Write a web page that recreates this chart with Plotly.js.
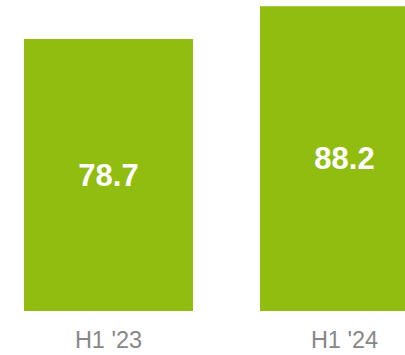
<!DOCTYPE html>
<html>
<head>
<meta charset="utf-8">
<script src="https://cdn.plot.ly/plotly-3.0.1.min.js"></script>
<style>html,body{margin:0;padding:0;background:#fff;}#chart{width:405px;height:355px;}</style>
</head>
<body>
<div id="chart"></div>
<script>
const categories = ["H1 '23", "H1 '24"];
const values = [78.7, 88.2];
const labels = ["78.7", "88.2"];

const trace = {
  type: 'bar',
  x: categories,
  y: values,
  text: labels,
  textposition: 'inside',
  insidetextanchor: 'middle',
  textfont: {family: 'Liberation Sans, Arial, sans-serif', size: 31, color: '#ffffff', weight: 'bold'},
  marker: {color: '#90bd0f'},
  hoverinfo: 'none'
};

const layout = {
  width: 405, height: 355,
  margin: {l: 0, r: 0, t: 0, b: 44, pad: 0},
  paper_bgcolor: '#ffffff', plot_bgcolor: '#ffffff',
  bargap: 0.284,
  showlegend: false,
  xaxis: {
    type: 'category',
    range: [-0.4597, 1.2564],
    showgrid: false, zeroline: false, showline: false,
    ticks: '', ticklabelstandoff: 12,
    tickfont: {family: 'Liberation Sans, Arial, sans-serif', size: 23.5, color: '#878787'}
  },
  yaxis: {
    range: [0, 90],
    visible: false, showgrid: false, zeroline: false
  }
};

Plotly.newPlot('chart', [trace], layout, {staticPlot: true, displayModeBar: false});
</script>
</body>
</html>
